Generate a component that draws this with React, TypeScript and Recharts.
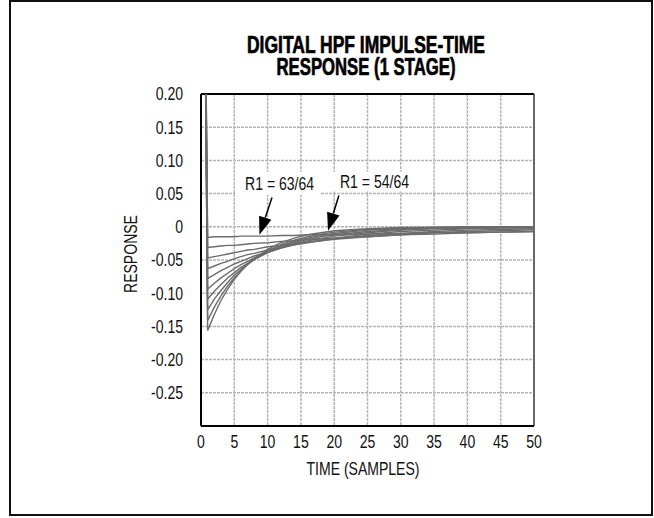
import {
  CartesianGrid,
  Line,
  LineChart,
  ReferenceArea,
  ReferenceLine,
  XAxis,
  YAxis,
} from "recharts";

const FONT = "'Liberation Sans', Arial, sans-serif";

// time axis (samples) where the curves were read
const times = [0, 1, 2, 3, 4, 5, 6, 7, 8, 10, 12, 14, 16, 18, 20, 25, 30, 35, 40, 45, 50];

// responses, one list per R1 setting
const r54 = [1, -0.156, -0.132, -0.111, -0.094, -0.079, -0.067, -0.056, -0.048, -0.034, -0.024, -0.017, -0.012, -0.009, -0.006, -0.003, -0.001, -0.0005, -0.0002, -0.0001, 0];
const r55 = [1, -0.141, -0.121, -0.104, -0.089, -0.077, -0.066, -0.057, -0.049, -0.036, -0.027, -0.02, -0.015, -0.011, -0.008, -0.004, -0.002, -0.001, -0.0004, -0.0002, -0.0001];
const r56 = [1, -0.125, -0.109, -0.096, -0.084, -0.073, -0.064, -0.056, -0.049, -0.038, -0.029, -0.022, -0.017, -0.013, -0.01, -0.005, -0.003, -0.0013, -0.0007, -0.0004, -0.0002];
const r57 = [1, -0.109, -0.097, -0.087, -0.077, -0.069, -0.061, -0.055, -0.049, -0.039, -0.031, -0.024, -0.019, -0.015, -0.012, -0.007, -0.004, -0.002, -0.0012, -0.0007, -0.0004];
const r58 = [1, -0.094, -0.085, -0.077, -0.07, -0.063, -0.057, -0.052, -0.047, -0.039, -0.032, -0.026, -0.021, -0.018, -0.014, -0.009, -0.005, -0.003, -0.002, -0.0012, -0.0008];
const r59 = [1, -0.078, -0.072, -0.066, -0.061, -0.056, -0.052, -0.048, -0.044, -0.038, -0.032, -0.027, -0.023, -0.02, -0.017, -0.011, -0.007, -0.005, -0.003, -0.002, -0.0015];
const r60 = [1, -0.063, -0.059, -0.055, -0.052, -0.048, -0.045, -0.042, -0.04, -0.035, -0.031, -0.027, -0.024, -0.021, -0.018, -0.013, -0.01, -0.007, -0.005, -0.004, -0.003];
const r61 = [1, -0.047, -0.045, -0.043, -0.041, -0.039, -0.037, -0.035, -0.034, -0.03, -0.028, -0.025, -0.023, -0.021, -0.019, -0.015, -0.012, -0.009, -0.007, -0.006, -0.0045];
const r62 = [1, -0.031, -0.03, -0.029, -0.028, -0.028, -0.027, -0.026, -0.025, -0.024, -0.022, -0.021, -0.019, -0.018, -0.017, -0.015, -0.012, -0.011, -0.009, -0.008, -0.007];
const r63 = [1, -0.016, -0.015, -0.015, -0.015, -0.015, -0.014, -0.014, -0.014, -0.014, -0.013, -0.013, -0.012, -0.012, -0.012, -0.011, -0.01, -0.009, -0.009, -0.008, -0.007];

const series = [r54, r55, r56, r57, r58, r59, r60, r61, r62, r63];
const seriesNames = ["54/64", "55/64", "56/64", "57/64", "58/64", "59/64", "60/64", "61/64", "62/64", "63/64"];

const xTicks = [0, 5, 10, 15, 20, 25, 30, 35, 40, 45, 50];
const yTicks = [0.2, 0.15, 0.1, 0.05, 0, -0.05, -0.1, -0.15, -0.2, -0.25, -0.3];
const yTickLabels = ["0.20", "0.15", "0.10", "0.05", "0", "-0.05", "-0.10", "-0.15", "-0.20", "-0.25", ""];

const data = times.map((t, i) => {
  const row: any = { t };
  series.forEach((s, j) => (row[seriesNames[j]] = s[i]));
  return row;
});

// condensed look: regular sans squeezed horizontally
const Narrow = ({ x, y, anchor, dy, size = 18, children }: any) => (
  <text
    transform={`translate(${x},${y}) scale(0.78,1)`}
    textAnchor={anchor}
    dy={dy}
    fontFamily={FONT}
    fontSize={size}
    fill="#111"
  >
    {children}
  </text>
);

const XTick = (props: any) => (
  <Narrow x={props.x} y={props.y} anchor="middle" dy="0.71em">
    {props.payload.value}
  </Narrow>
);

const YTick = (props: any) => {
  const i = yTicks.findIndex((v) => Math.abs(v - props.payload.value) < 1e-9);
  return (
    <Narrow x={props.x} y={props.y} anchor="end" dy="0.355em">
      {yTickLabels[i] ?? ""}
    </Narrow>
  );
};

const BoxLabel = (props: any) => {
  const { viewBox, value } = props;
  if (!viewBox) return null;
  return (
    <Narrow x={viewBox.x + viewBox.width / 2 + 2} y={viewBox.y + viewBox.height / 2} anchor="middle" dy="0.36em">
      {value}
    </Narrow>
  );
};

// arrow drawn from the reference line's end points
const Arrow = (props: any) => {
  const { x1, y1, x2, y2 } = props;
  const dx = x2 - x1;
  const dy = y2 - y1;
  const len = Math.sqrt(dx * dx + dy * dy) || 1;
  const ux = dx / len;
  const uy = dy / len;
  const head = 18;
  const half = 6.5;
  const bx = x2 - ux * head;
  const by = y2 - uy * head;
  return (
    <g>
      <line x1={x1} y1={y1} x2={bx} y2={by} stroke="#000" strokeWidth={1.5} />
      <polygon
        points={`${x2},${y2} ${bx - uy * half},${by + ux * half} ${bx + uy * half},${by - ux * half}`}
        fill="#000"
      />
    </g>
  );
};

export default function App() {
  return (
    <div style={{ position: "absolute", left: 0, top: 0, width: 654, height: 518, background: "#fff" }}>
      <div
        style={{
          position: "absolute",
          left: 9,
          top: 0,
          width: 644,
          height: 516,
          border: "2px solid #111",
          boxSizing: "border-box",
        }}
      />
      <LineChart
        width={654}
        height={518}
        data={data}
        margin={{ top: 94, right: 120, bottom: 52, left: 141 }}
        style={{ position: "absolute", left: 0, top: 0 }}
      >
        <CartesianGrid stroke="#b4b4b4" strokeWidth={1.5} strokeDasharray="3 1" />
        <XAxis
          dataKey="t"
          type="number"
          domain={[0, 50]}
          ticks={xTicks}
          height={40}
          tickSize={0}
          tickMargin={9}
          tick={XTick}
          axisLine={{ stroke: "#000", strokeWidth: 2 }}
        />
        <YAxis
          type="number"
          domain={[-0.3, 0.2]}
          allowDataOverflow
          ticks={yTicks}
          interval={0}
          width={60}
          tickSize={0}
          tickMargin={18}
          tick={YTick}
          axisLine={{ stroke: "#000", strokeWidth: 2 }}
        />
        <ReferenceLine y={0.2} stroke="#000" strokeWidth={2} />
        <ReferenceLine x={50} stroke="#444" strokeWidth={1.5} />
        <ReferenceArea
          x1={5.1}
          x2={17.9}
          y1={0.048}
          y2={0.083}
          fill="#fff"
          fillOpacity={1}
          stroke="none"
          label={{ value: "R1 = 63/64", content: BoxLabel }}
        />
        <ReferenceArea
          x1={18.6}
          x2={32.9}
          y1={0.053}
          y2={0.083}
          fill="#fff"
          fillOpacity={1}
          stroke="none"
          label={{ value: "R1 = 54/64", content: BoxLabel }}
        />
        {series.map((_, j) => (
          <Line
            key={seriesNames[j]}
            dataKey={seriesNames[j]}
            type="linear"
            stroke="#6c6c6c"
            strokeWidth={1.4}
            dot={false}
            isAnimationActive={false}
          />
        ))}
        <ReferenceLine
          segment={[
            { x: 10.66, y: 0.044 },
            { x: 8.78, y: -0.012 },
          ]}
          shape={Arrow}
        />
        <ReferenceLine
          segment={[
            { x: 20.7, y: 0.047 },
            { x: 19.07, y: -0.006 },
          ]}
          shape={Arrow}
        />
      </LineChart>
      <svg
        width={654}
        height={518}
        style={{ position: "absolute", left: 0, top: 0, pointerEvents: "none" }}
      >
        <text
          textAnchor="middle"
          fontFamily={FONT}
          fontWeight="bold"
          fontSize={24}
          fill="#000"
          stroke="#000"
          strokeWidth={0.7}
        >
          <tspan x={366} y={53} textLength={238} lengthAdjust="spacingAndGlyphs">
            DIGITAL HPF IMPULSE-TIME
          </tspan>
          <tspan x={366} y={75} textLength={179} lengthAdjust="spacingAndGlyphs">
            RESPONSE (1 STAGE)
          </tspan>
        </text>
        <g transform="translate(131 254) rotate(-90)">
          <Narrow x={0} y={0} anchor="middle" dy="0.36em">
            RESPONSE
          </Narrow>
        </g>
        <Narrow x={363} y={475} anchor="middle">
          TIME (SAMPLES)
        </Narrow>
      </svg>
    </div>
  );
}
